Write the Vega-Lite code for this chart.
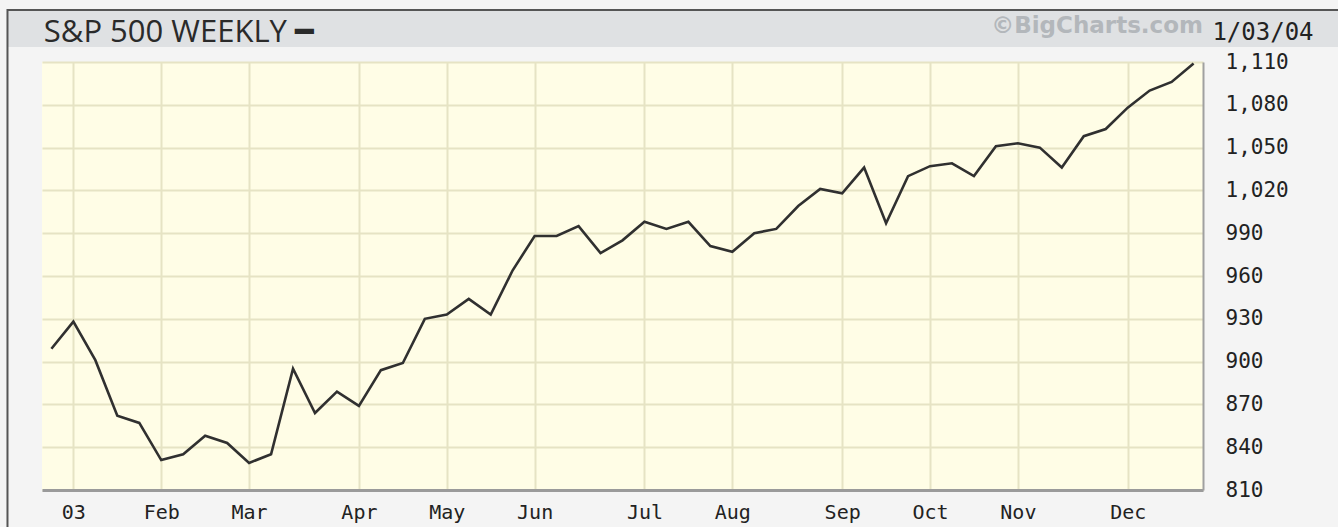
{
  "$schema": "https://vega.github.io/schema/vega-lite/v6.json",
  "width": 1161,
  "height": 428,
  "autosize": {"type": "none"},
  "padding": {"left": 42, "top": 62, "right": 135, "bottom": 37},
  "background": "#f4f4f4",
  "config": {"view": {"fill": "#fffde6", "stroke": null}},
  "data": {
    "values": [
      {"date": "2002-12-30", "close": 909},
      {"date": "2003-01-06", "close": 928},
      {"date": "2003-01-13", "close": 901},
      {"date": "2003-01-20", "close": 862},
      {"date": "2003-01-27", "close": 857},
      {"date": "2003-02-03", "close": 831},
      {"date": "2003-02-10", "close": 835},
      {"date": "2003-02-17", "close": 848},
      {"date": "2003-02-24", "close": 843},
      {"date": "2003-03-03", "close": 829},
      {"date": "2003-03-10", "close": 835},
      {"date": "2003-03-17", "close": 895},
      {"date": "2003-03-24", "close": 864},
      {"date": "2003-03-31", "close": 879},
      {"date": "2003-04-07", "close": 869},
      {"date": "2003-04-14", "close": 894},
      {"date": "2003-04-21", "close": 899},
      {"date": "2003-04-28", "close": 930},
      {"date": "2003-05-05", "close": 933},
      {"date": "2003-05-12", "close": 944},
      {"date": "2003-05-19", "close": 933},
      {"date": "2003-05-26", "close": 964},
      {"date": "2003-06-02", "close": 988},
      {"date": "2003-06-09", "close": 988},
      {"date": "2003-06-16", "close": 995},
      {"date": "2003-06-23", "close": 976},
      {"date": "2003-06-30", "close": 985},
      {"date": "2003-07-07", "close": 998},
      {"date": "2003-07-14", "close": 993},
      {"date": "2003-07-21", "close": 998},
      {"date": "2003-07-28", "close": 981},
      {"date": "2003-08-04", "close": 977},
      {"date": "2003-08-11", "close": 990},
      {"date": "2003-08-18", "close": 993},
      {"date": "2003-08-25", "close": 1009},
      {"date": "2003-09-01", "close": 1021},
      {"date": "2003-09-08", "close": 1018},
      {"date": "2003-09-15", "close": 1036},
      {"date": "2003-09-22", "close": 997},
      {"date": "2003-09-29", "close": 1030},
      {"date": "2003-10-06", "close": 1037},
      {"date": "2003-10-13", "close": 1039},
      {"date": "2003-10-20", "close": 1030},
      {"date": "2003-10-27", "close": 1051},
      {"date": "2003-11-03", "close": 1053},
      {"date": "2003-11-10", "close": 1050},
      {"date": "2003-11-17", "close": 1036},
      {"date": "2003-11-24", "close": 1058},
      {"date": "2003-12-01", "close": 1063},
      {"date": "2003-12-08", "close": 1078},
      {"date": "2003-12-15", "close": 1090},
      {"date": "2003-12-22", "close": 1096},
      {"date": "2003-12-29", "close": 1109}
    ]
  },
  "layer": [
    {
      "data": {"values": [{}]},
      "mark": {"type": "rect", "fill": "#dfe1e3", "stroke": null},
      "encoding": {
        "x": {"datum": {"year": 2002, "month": 12, "date": 16, "utc": true}, "type": "temporal"},
        "x2": {"datum": {"year": 2004, "month": 2, "date": 20, "utc": true}},
        "y": {"datum": 1146.4, "type": "quantitative"},
        "y2": {"datum": 1120.5}
      }
    },
    {
      "data": {"values": [{}]},
      "mark": {"type": "rect", "fill": null, "fillOpacity": 0, "stroke": "#555555", "strokeWidth": 2},
      "encoding": {
        "x": {"datum": {"year": 2002, "month": 12, "date": 16, "utc": true}, "type": "temporal"},
        "x2": {"datum": {"year": 2004, "month": 2, "date": 20, "utc": true}},
        "y": {"datum": 1146.4, "type": "quantitative"},
        "y2": {"datum": 770}
      }
    },
    {
      "data": {"values": [{"label": "S&P 500 WEEKLY ━"}]},
      "mark": {"type": "text", "align": "left", "baseline": "alphabetic", "font": "Open Sans", "fontSize": 31, "color": "#2a2a2a"},
      "encoding": {
        "x": {"datum": {"year": 2002, "month": 12, "date": 27, "hours": 14, "utc": true}, "type": "temporal"},
        "y": {"datum": 1124.0, "type": "quantitative"},
        "text": {"field": "label"}
      }
    },
    {
      "data": {"values": [{"label": "©BigCharts.com"}]},
      "mark": {"type": "text", "align": "right", "baseline": "middle", "font": "DejaVu Sans", "fontSize": 23, "fontWeight": "bold", "color": "#b3b7bb"},
      "encoding": {
        "x": {"datum": {"year": 2004, "month": 1, "date": 1, "utc": true}, "type": "temporal"},
        "y": {"datum": 1135.2, "type": "quantitative"},
        "text": {"field": "label"}
      }
    },
    {
      "data": {"values": [{"label": "1/03/04"}]},
      "mark": {"type": "text", "align": "left", "baseline": "middle", "font": "DejaVu Sans Mono", "fontSize": 24, "color": "#222222"},
      "encoding": {
        "x": {"datum": {"year": 2004, "month": 1, "date": 4, "hours": 0, "utc": true}, "type": "temporal"},
        "y": {"datum": 1130.6, "type": "quantitative"},
        "text": {"field": "label"}
      }
    },
    {
      "mark": {"type": "line", "color": "#303030", "strokeWidth": 2.6, "interpolate": "linear"},
      "encoding": {
        "x": {
          "field": "date",
          "type": "temporal",
          "scale": {
            "type": "utc",
            "domain": [
              {"year": 2002, "month": 12, "date": 27, "utc": true},
              {"year": 2004, "month": 1, "date": 1, "utc": true}
            ]
          },
          "axis": {
            "orient": "bottom",
            "values": [
              {"year": 2003, "month": 1, "date": 6, "utc": true},
              {"year": 2003, "month": 2, "date": 3, "utc": true},
              {"year": 2003, "month": 3, "date": 3, "utc": true},
              {"year": 2003, "month": 4, "date": 7, "utc": true},
              {"year": 2003, "month": 5, "date": 5, "utc": true},
              {"year": 2003, "month": 6, "date": 2, "utc": true},
              {"year": 2003, "month": 7, "date": 7, "utc": true},
              {"year": 2003, "month": 8, "date": 4, "utc": true},
              {"year": 2003, "month": 9, "date": 8, "utc": true},
              {"year": 2003, "month": 10, "date": 6, "utc": true},
              {"year": 2003, "month": 11, "date": 3, "utc": true},
              {"year": 2003, "month": 12, "date": 8, "utc": true}
            ],
            "labelExpr": "utcmonth(datum.value) == 0 ? '03' : utcFormat(datum.value, '%b')",
            "labelFont": "DejaVu Sans Mono",
            "labelFontSize": 20,
            "labelColor": "#222222",
            "labelPadding": 12,
            "labelAngle": 0,
            "labelOverlap": false,
            "labelFlush": false,
            "ticks": false,
            "domain": true,
            "domainColor": "#9a9a9a",
            "domainWidth": 3,
            "grid": true,
            "gridColor": "#e6e3c4",
            "gridWidth": 2,
            "gridOpacity": 1,
            "title": null
          }
        },
        "y": {
          "field": "close",
          "type": "quantitative",
          "scale": {"domain": [810, 1110], "nice": false, "zero": false},
          "axis": {
            "orient": "right",
            "values": [810, 840, 870, 900, 930, 960, 990, 1020, 1050, 1080, 1110],
            "format": ",d",
            "labelFont": "DejaVu Sans Mono",
            "labelFontSize": 21,
            "labelColor": "#222222",
            "labelPadding": 22,
            "labelAlign": "left",
            "labelBaseline": "middle",
            "labelFlush": false,
            "labelOverlap": false,
            "ticks": false,
            "domain": true,
            "domainColor": "#a0a0a0",
            "domainWidth": 2,
            "grid": true,
            "gridColor": "#e6e3c4",
            "gridWidth": 2,
            "gridOpacity": 1,
            "title": null
          }
        }
      }
    }
  ]
}
